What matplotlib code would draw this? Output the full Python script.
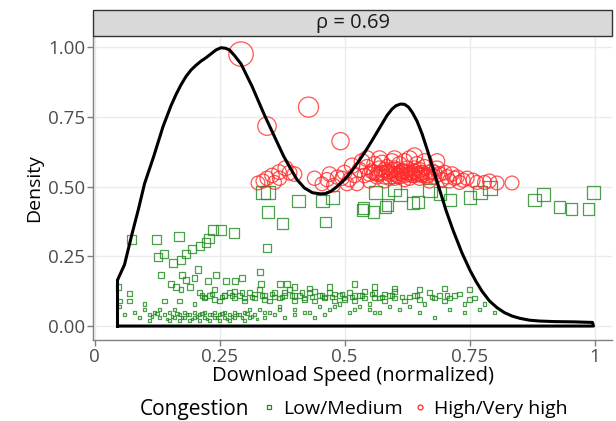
import numpy as np
import matplotlib.pyplot as plt
from matplotlib.lines import Line2D
from matplotlib.patches import Rectangle

plt.rcParams['font.family'] = ['Open Sans', 'DejaVu Sans']

# density outline (scaled density)
curve_x = [0.046, 0.046, 0.06, 0.075, 0.088, 0.10, 0.118, 0.137, 0.153, 0.163, 0.173,
           0.183, 0.193, 0.203, 0.213, 0.223, 0.233, 0.243, 0.253, 0.262, 0.27, 0.28,
           0.293, 0.304, 0.315, 0.327, 0.339, 0.352, 0.365, 0.378, 0.392, 0.405, 0.42,
           0.436, 0.452, 0.462, 0.472, 0.485, 0.50, 0.515, 0.53, 0.543, 0.555, 0.565,
           0.575, 0.585, 0.595, 0.603, 0.612, 0.62, 0.628, 0.636, 0.645, 0.655, 0.665,
           0.677, 0.69, 0.703, 0.717, 0.735, 0.751, 0.763, 0.775, 0.79, 0.805, 0.82,
           0.835, 0.85, 0.87, 0.89, 0.92, 0.96, 0.996, 0.998, 0.046]
curve_y = [0.0, 0.165, 0.22, 0.33, 0.42, 0.51, 0.606, 0.715, 0.79, 0.83, 0.865,
           0.895, 0.918, 0.935, 0.95, 0.962, 0.976, 0.99, 0.998, 0.996, 0.99, 0.97,
           0.94, 0.90, 0.86, 0.81, 0.76, 0.71, 0.66, 0.61, 0.565, 0.525, 0.495,
           0.478, 0.474, 0.475, 0.482, 0.50, 0.525, 0.557, 0.595, 0.63, 0.665, 0.695,
           0.725, 0.755, 0.778, 0.79, 0.796, 0.795, 0.785, 0.765, 0.735, 0.69, 0.635,
           0.565, 0.49, 0.415, 0.344, 0.262, 0.20, 0.16, 0.125, 0.09, 0.066, 0.048,
           0.036, 0.028, 0.021, 0.018, 0.016, 0.015, 0.013, 0.0, 0.0]

# Low/Medium congestion points
low_x = [
    # bottom band
    0.05, 0.06, 0.08, 0.09, 0.10, 0.11, 0.11, 0.12, 0.13, 0.13, 0.14, 0.15, 0.15, 0.16,
    0.16, 0.17, 0.17, 0.18, 0.18, 0.19, 0.19, 0.20, 0.20, 0.21, 0.21, 0.22, 0.22, 0.23,
    0.23, 0.24, 0.24, 0.25, 0.25, 0.26, 0.26, 0.27, 0.27, 0.28, 0.28, 0.29, 0.30, 0.30,
    0.31, 0.32, 0.33, 0.34, 0.35, 0.36, 0.37, 0.38, 0.40, 0.42, 0.44, 0.46,
    0.05, 0.07, 0.10, 0.14, 0.17, 0.20,
    0.115, 0.125, 0.145, 0.155, 0.165, 0.175, 0.185, 0.195, 0.205, 0.215, 0.225, 0.235,
    0.245, 0.255, 0.265, 0.275, 0.285, 0.295, 0.305, 0.315, 0.325,
    # dense middle band
    0.21, 0.22, 0.23, 0.24, 0.25, 0.26, 0.27, 0.28, 0.29, 0.30, 0.31, 0.32, 0.33, 0.34,
    0.35, 0.36, 0.37, 0.38, 0.39, 0.40, 0.41, 0.42, 0.43, 0.44, 0.45, 0.46, 0.47, 0.48,
    0.49, 0.50, 0.51, 0.52, 0.53, 0.54, 0.55, 0.56, 0.57, 0.58, 0.59, 0.60, 0.62, 0.64,
    0.66, 0.68, 0.70, 0.72, 0.74, 0.76, 0.78,
    0.22, 0.24, 0.26, 0.28, 0.30, 0.32, 0.34, 0.36, 0.38, 0.40, 0.42, 0.44, 0.46, 0.48,
    0.50, 0.52, 0.54, 0.56, 0.58, 0.60, 0.63, 0.65, 0.67, 0.69, 0.71, 0.73, 0.75,
    0.215, 0.235, 0.255, 0.275, 0.295, 0.315, 0.335, 0.355, 0.375, 0.395, 0.415, 0.435,
    0.455, 0.475, 0.495, 0.515, 0.535, 0.555, 0.575, 0.595, 0.615, 0.645, 0.675, 0.705,
    0.31, 0.34, 0.37, 0.40, 0.43, 0.45, 0.47, 0.49, 0.51, 0.53, 0.55, 0.57, 0.59, 0.61,
    0.63, 0.65, 0.68, 0.71, 0.74, 0.77, 0.80, 0.48, 0.52, 0.56,
    # upper part of middle band
    0.048, 0.07, 0.133, 0.153, 0.163, 0.173, 0.175, 0.183, 0.191, 0.20, 0.207, 0.227,
    0.243, 0.263, 0.281, 0.295, 0.331, 0.333, 0.371, 0.385, 0.40, 0.43, 0.47, 0.52,
    0.56, 0.60, 0.65, 0.70, 0.75,
    # large squares
    0.074, 0.124, 0.169, 0.127, 0.139, 0.157, 0.173, 0.183, 0.195, 0.211, 0.223, 0.229,
    0.237, 0.253, 0.279, 0.345, 0.347, 0.376, 0.337, 0.347, 0.408, 0.456, 0.476, 0.462,
    0.536, 0.558, 0.582, 0.562, 0.612, 0.637, 0.647, 0.671, 0.691, 0.711, 0.751, 0.771,
    0.791, 0.88, 0.898, 0.93, 0.954, 0.988, 0.998, 0.538, 0.586, 0.60,
]
low_y = [
    0.07, 0.04, 0.05, 0.03, 0.06, 0.04, 0.02, 0.05, 0.03, 0.06, 0.04, 0.02, 0.05, 0.03,
    0.06, 0.04, 0.02, 0.05, 0.03, 0.04, 0.02, 0.05, 0.03, 0.04, 0.02, 0.05, 0.03, 0.04,
    0.02, 0.05, 0.03, 0.04, 0.02, 0.05, 0.03, 0.04, 0.02, 0.05, 0.03, 0.04, 0.02, 0.05,
    0.03, 0.04, 0.06, 0.03, 0.05, 0.04, 0.06, 0.03, 0.04, 0.05, 0.03, 0.04,
    0.09, 0.09, 0.08, 0.09, 0.09, 0.08,
    0.035, 0.045, 0.025, 0.035, 0.045, 0.03, 0.04, 0.025, 0.035, 0.045, 0.025, 0.04,
    0.03, 0.045, 0.025, 0.035, 0.04, 0.03, 0.045, 0.035, 0.025,
    0.12, 0.10, 0.11, 0.13, 0.09, 0.11, 0.12, 0.10, 0.11, 0.09, 0.12, 0.10, 0.13, 0.11,
    0.09, 0.12, 0.10, 0.11, 0.13, 0.09, 0.11, 0.10, 0.12, 0.09, 0.11, 0.10, 0.12, 0.09,
    0.11, 0.10, 0.12, 0.09, 0.11, 0.10, 0.08, 0.12, 0.10, 0.09, 0.11, 0.10, 0.09, 0.11,
    0.08, 0.10, 0.09, 0.11, 0.08, 0.10, 0.08,
    0.105, 0.095, 0.11, 0.125, 0.10, 0.115, 0.095, 0.105, 0.12, 0.11, 0.095, 0.125, 0.105,
    0.115, 0.095, 0.11, 0.125, 0.10, 0.115, 0.125, 0.105, 0.095, 0.12, 0.11, 0.10, 0.115,
    0.095,
    0.11, 0.115, 0.105, 0.11, 0.12, 0.105, 0.11, 0.115, 0.105, 0.11, 0.12, 0.105, 0.11,
    0.105, 0.115, 0.105, 0.11, 0.115, 0.105, 0.11, 0.105, 0.11, 0.105, 0.11,
    0.06, 0.05, 0.07, 0.06, 0.05, 0.07, 0.06, 0.08, 0.05, 0.07, 0.06, 0.05, 0.07, 0.06,
    0.07, 0.05, 0.03, 0.06, 0.05, 0.06, 0.05, 0.07, 0.06, 0.05,
    0.14, 0.118, 0.183, 0.15, 0.14, 0.13, 0.183, 0.165, 0.14, 0.172, 0.204, 0.161,
    0.183, 0.161, 0.161, 0.172, 0.194, 0.15, 0.15, 0.15, 0.14, 0.135, 0.14, 0.15,
    0.14, 0.135, 0.13, 0.135, 0.13,
    0.31, 0.31, 0.32, 0.247, 0.258, 0.226, 0.237, 0.258, 0.276, 0.287, 0.30, 0.315,
    0.344, 0.344, 0.333, 0.28, 0.409, 0.368, 0.48, 0.48, 0.448, 0.448, 0.462, 0.373,
    0.416, 0.409, 0.427, 0.48, 0.47, 0.44, 0.444, 0.487, 0.477, 0.452, 0.46, 0.48,
    0.495, 0.452, 0.473, 0.427, 0.419, 0.419, 0.48, 0.423, 0.434, 0.49,
]

# High/Very high congestion points
high_x = [
    0.293, 0.428, 0.345, 0.492,
    0.327, 0.337, 0.345, 0.355, 0.369, 0.382, 0.39, 0.40, 0.37, 0.36,
    0.478, 0.486, 0.50, 0.51, 0.515, 0.52, 0.525, 0.53, 0.535,
    0.54, 0.545, 0.55, 0.555, 0.56, 0.565, 0.57, 0.575, 0.58, 0.585, 0.59, 0.595, 0.60,
    0.605, 0.61, 0.615, 0.62, 0.625, 0.63, 0.635, 0.64, 0.645, 0.65, 0.655, 0.66, 0.665,
    0.67, 0.675, 0.68, 0.685, 0.69, 0.695, 0.70,
    0.56, 0.57, 0.58, 0.59, 0.60, 0.61, 0.62, 0.63, 0.64, 0.65, 0.66, 0.67, 0.58, 0.60,
    0.62, 0.64, 0.55, 0.57, 0.59, 0.61, 0.63, 0.65, 0.68, 0.62, 0.60, 0.64, 0.66, 0.575,
    0.545, 0.685,
    0.565, 0.585, 0.605, 0.625, 0.645, 0.665, 0.595, 0.615, 0.635, 0.655,
    0.705, 0.71, 0.715, 0.72, 0.725, 0.73, 0.737, 0.745, 0.757, 0.765, 0.78, 0.79, 0.805,
    0.835,
    0.44, 0.455, 0.465, 0.47, 0.495, 0.505,
]
high_y = [
    0.975, 0.785, 0.717, 0.663,
    0.513, 0.52, 0.53, 0.54, 0.552, 0.566, 0.55, 0.545, 0.53, 0.515,
    0.505, 0.534, 0.55, 0.525, 0.575, 0.54, 0.51, 0.56, 0.59,
    0.54, 0.57, 0.52, 0.555, 0.58, 0.535, 0.60, 0.55, 0.52, 0.57, 0.545, 0.59, 0.53,
    0.56, 0.58, 0.545, 0.525, 0.565, 0.60, 0.54, 0.555, 0.58, 0.53, 0.55, 0.57, 0.54,
    0.52, 0.555, 0.535, 0.565, 0.545, 0.525, 0.55,
    0.55, 0.545, 0.56, 0.555, 0.545, 0.55, 0.555, 0.545, 0.54, 0.56, 0.545, 0.55, 0.535,
    0.565, 0.54, 0.565, 0.545, 0.565, 0.53, 0.535, 0.53, 0.545, 0.55, 0.59, 0.60, 0.61,
    0.59, 0.585, 0.60, 0.59,
    0.545, 0.55, 0.54, 0.55, 0.545, 0.535, 0.56, 0.555, 0.55, 0.54,
    0.535, 0.52, 0.545, 0.53, 0.534, 0.515, 0.523, 0.53, 0.523, 0.515, 0.515, 0.52, 0.513,
    0.513,
    0.53, 0.51, 0.525, 0.545, 0.53, 0.51,
]

rho_label = "ρ = 0.69"
green = '#1f8a1f'
red = '#ff2a2a'


def marker_area(y):
    # point size grows with density value
    d_px = 2 + 23 * np.asarray(y)
    return (d_px * 72 / 100) ** 2


fig = plt.figure(figsize=(6.16, 4.21), dpi=100)
ax = fig.add_axes([93 / 616, 1 - 340 / 421, (612 - 93) / 616, (340 - 36) / 421])

ax.scatter(low_x, low_y, s=marker_area(low_y), marker='s', facecolors='none',
           edgecolors=green, linewidths=0.9, alpha=0.8, zorder=2)
ax.scatter(high_x, high_y, s=marker_area(high_y), marker='o', facecolors='none',
           edgecolors=red, linewidths=0.9, alpha=0.8, zorder=3)
ax.plot(curve_x, curve_y, color='black', lw=2.2, solid_joinstyle='round', zorder=4)

ax.set_xlim(-0.003, 1.035)
ax.set_ylim(-0.05, 1.04)
ax.set_xticks([0, 0.25, 0.5, 0.75, 1])
ax.set_xticklabels(['0', '0.25', '0.5', '0.75', '1'])
ax.set_yticks([0, 0.25, 0.5, 0.75, 1])
ax.set_yticklabels(['0.00', '0.25', '0.50', '0.75', '1.00'])
ax.grid(True, color='#ebebeb', lw=1.0)
ax.set_axisbelow(True)
for s in ['top', 'right']:
    ax.spines[s].set_visible(False)
for s in ['left', 'bottom']:
    ax.spines[s].set_color('#7f7f7f')
    ax.spines[s].set_linewidth(1.0)
ax.tick_params(colors='#7f7f7f', labelcolor='#4d4d4d', labelsize=13.5, length=4, width=1,
               pad=1.5)
ax.set_xlabel('Download Speed (normalized)', fontsize=14.5, labelpad=0)
ax.set_ylabel('Density', fontsize=14, labelpad=4)

# facet strip
strip = Rectangle((93 / 616, 1 - 36 / 421), (612 - 93) / 616, 26 / 421,
                  transform=fig.transFigure, facecolor='#d9d9d9', edgecolor='#333333',
                  lw=1.0)
fig.patches.append(strip)
fig.text((93 + 612) / 2 / 616, 1 - 23 / 421, rho_label, ha='center', va='center',
         fontsize=14.5, color='#1a1a1a')

# legend
fig.text(140 / 616, 1 - 409 / 421, 'Congestion', ha='left', va='center', fontsize=15)
handles = [Line2D([], [], marker='s', ls='none', markerfacecolor='none',
                  markeredgecolor=green, markersize=3.5, markeredgewidth=0.9),
           Line2D([], [], marker='o', ls='none', markerfacecolor='none',
                  markeredgecolor=red, markersize=3.5, markeredgewidth=0.9)]
fig.legend(handles, ['Low/Medium', 'High/Very high'], loc='center left',
           bbox_to_anchor=(262 / 616, 1 - 409 / 421), ncol=2, frameon=False,
           fontsize=14, handlelength=0.7, handletextpad=0.4, columnspacing=0.5,
           borderpad=0, borderaxespad=0)

fig.savefig('out.png', dpi=100)
